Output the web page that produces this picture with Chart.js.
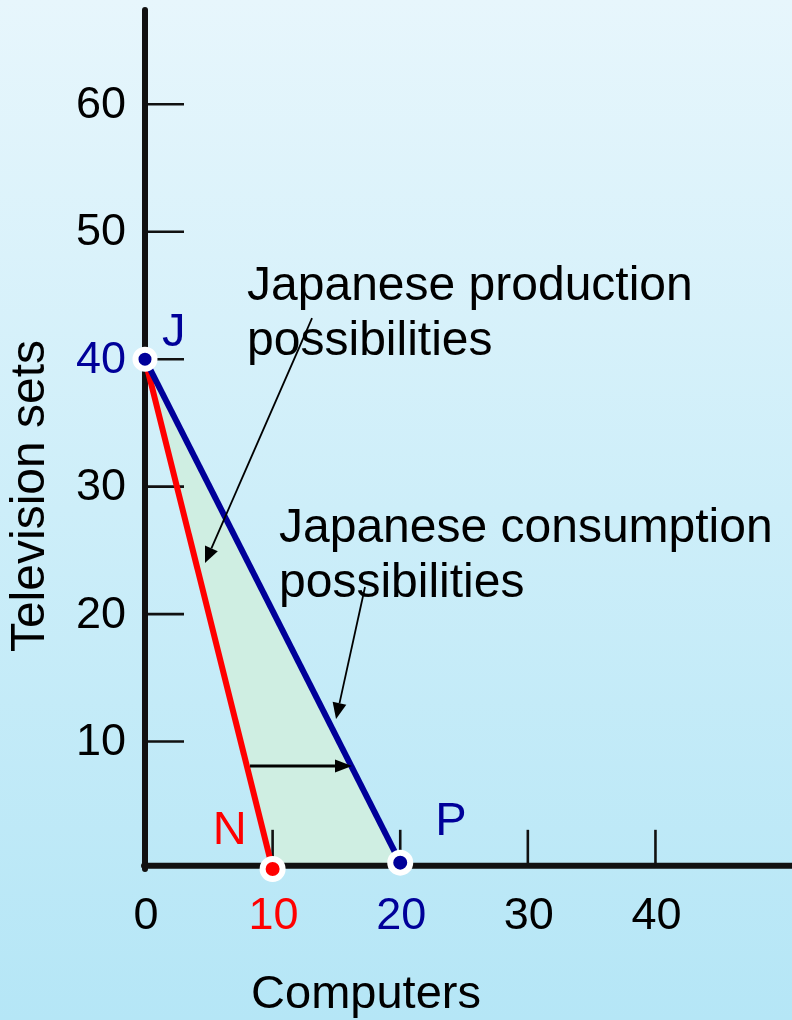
<!DOCTYPE html>
<html>
<head>
<meta charset="utf-8">
<script src="https://cdn.jsdelivr.net/npm/chart.js@4/dist/chart.umd.min.js"></script>
<style>
  html, body { margin: 0; padding: 0; }
  body {
    width: 792px; height: 1020px; overflow: hidden;
    background: linear-gradient(to bottom, #e7f6fc 0%, #cdeef9 50%, #b5e6f6 100%);
  }
  canvas { display: block; }
</style>
</head>
<body>
<canvas id="c" width="792" height="1020"></canvas>
<script>
// Japan: production possibilities vs consumption possibilities with trade
const computerTicks = [0, 10, 20, 30, 40];
const tvTicks = [10, 20, 30, 40, 50, 60];
const productionComputers = [0, 10];
const productionTV = [40, 0];
const consumptionComputers = [0, 20];
const consumptionTV = [40, 0.5];
const pointNames = ['J', 'N', 'P'];
const xTitle = 'Computers';
const yTitle = 'Television sets';
const productionNote = ['Japanese production', 'possibilities'];
const consumptionNote = ['Japanese consumption', 'possibilities'];

// ---- styling ----
const RED = '#ff0000';
const NAVY = '#000099';
const INK = '#111111';
const SHADE = '#cfeee2';
const FONT = '"Liberation Sans", Arial, Helvetica, sans-serif';
const xTickColor = { 10: RED, 20: NAVY };
const yTickColor = { 40: NAVY };

// annotation anchors in data units (x = computers, y = television sets)
const notes = [
  { lines: productionNote, at: { x: 8.0, y: 44.65 } },
  { lines: consumptionNote, at: { x: 10.5, y: 25.68 } }
];
const arrows = [
  { from: { x: 13.09, y: 43.23 }, to: { x: 4.70, y: 24.01 }, width: 1.8, head: 16, half: 7 },
  { from: { x: 17.24, y: 22.13 }, to: { x: 14.97, y: 11.77 }, width: 1.8, head: 16, half: 7 },
  { from: { x: 8.23, y: 8.08 }, to: { x: 16.22, y: 8.08 }, width: 3, head: 17, half: 6.5 }
];
// x-axis baseline sits a touch above zero
const xAxisAt = 0.25;

const J = { x: productionComputers[0], y: productionTV[0] };
const N = { x: productionComputers[1], y: productionTV[1] };
const P = { x: consumptionComputers[1], y: consumptionTV[1] };

function pts(xs, ys) { return xs.map((x, i) => ({ x, y: ys[i] })); }

function drawArrow(ctx, x1, y1, x2, y2, a) {
  const ang = Math.atan2(y2 - y1, x2 - x1);
  const bx = x2 - a.head * Math.cos(ang), by = y2 - a.head * Math.sin(ang);
  ctx.save();
  ctx.strokeStyle = '#000'; ctx.fillStyle = '#000';
  ctx.lineWidth = a.width; ctx.lineCap = 'butt';
  ctx.beginPath(); ctx.moveTo(x1, y1); ctx.lineTo(bx, by); ctx.stroke();
  const nx = -Math.sin(ang), ny = Math.cos(ang);
  ctx.beginPath();
  ctx.moveTo(x2, y2);
  ctx.lineTo(bx + nx * a.half, by + ny * a.half);
  ctx.lineTo(bx - nx * a.half, by - ny * a.half);
  ctx.closePath(); ctx.fill();
  ctx.restore();
}

const axesPlugin = {
  id: 'axesPlugin',
  beforeDatasetsDraw(chart) {
    const { ctx, scales: { x, y } } = chart;
    const x0 = x.getPixelForValue(0);
    const yBase = y.getPixelForValue(xAxisAt);
    ctx.save();
    ctx.strokeStyle = INK;
    ctx.lineCap = 'round';
    // vertical axis
    ctx.lineWidth = 6;
    ctx.beginPath();
    ctx.moveTo(x0, chart.chartArea.top);
    ctx.lineTo(x0, y.getPixelForValue(0));
    ctx.stroke();
    // horizontal axis
    ctx.beginPath();
    ctx.moveTo(x0 - 1, yBase);
    ctx.lineTo(chart.chartArea.right + 4, yBase);
    ctx.stroke();
    // inward tick marks
    ctx.lineCap = 'butt';
    ctx.lineWidth = 2.6;
    tvTicks.forEach(v => {
      const py = y.getPixelForValue(v);
      ctx.beginPath(); ctx.moveTo(x0, py); ctx.lineTo(x0 + 39, py); ctx.stroke();
    });
    computerTicks.forEach(v => {
      if (v === 0) return;
      const px = x.getPixelForValue(v);
      ctx.beginPath(); ctx.moveTo(px, yBase); ctx.lineTo(px, yBase - 36); ctx.stroke();
    });
    // tick labels
    ctx.font = '45px ' + FONT;
    ctx.textBaseline = 'middle';
    ctx.textAlign = 'right';
    tvTicks.forEach(v => {
      ctx.fillStyle = yTickColor[v] || '#000';
      ctx.fillText(String(v), x0 - 19, y.getPixelForValue(v) + 1);
    });
    ctx.textAlign = 'center';
    ctx.textBaseline = 'alphabetic';
    computerTicks.forEach(v => {
      ctx.fillStyle = xTickColor[v] || '#000';
      ctx.fillText(String(v), x.getPixelForValue(v) + 1, 929);
    });
    // axis titles
    ctx.fillStyle = '#000';
    ctx.font = '47px ' + FONT;
    ctx.fillText(xTitle, 366, 1008);
    ctx.save();
    ctx.translate(31, 496);
    ctx.rotate(-Math.PI / 2);
    ctx.textBaseline = 'middle';
    ctx.font = '48px ' + FONT;
    ctx.fillText(yTitle, 0, 0);
    ctx.restore();
    ctx.restore();
  },
  afterDatasetsDraw(chart) {
    const { ctx, scales: { x, y } } = chart;
    ctx.save();
    // point names
    ctx.font = '47px ' + FONT;
    ctx.textBaseline = 'alphabetic';
    ctx.textAlign = 'left';
    ctx.fillStyle = NAVY;
    ctx.fillText(pointNames[0], x.getPixelForValue(J.x) + 17, y.getPixelForValue(J.y) - 13);
    ctx.textAlign = 'right';
    ctx.fillStyle = RED;
    ctx.fillText(pointNames[1], x.getPixelForValue(N.x) - 26, y.getPixelForValue(N.y) - 25);
    ctx.textAlign = 'left';
    ctx.fillStyle = NAVY;
    ctx.fillText(pointNames[2], x.getPixelForValue(P.x) + 35, y.getPixelForValue(P.y) - 28);
    // annotations
    ctx.fillStyle = '#000';
    ctx.font = '48px ' + FONT;
    notes.forEach(n => {
      const px = x.getPixelForValue(n.at.x), py = y.getPixelForValue(n.at.y);
      n.lines.forEach((t, i) => ctx.fillText(t, px, py + i * 55));
    });
    ctx.restore();
    arrows.forEach(a => drawArrow(ctx,
      x.getPixelForValue(a.from.x), y.getPixelForValue(a.from.y),
      x.getPixelForValue(a.to.x), y.getPixelForValue(a.to.y), a));
  }
};

new Chart(document.getElementById('c'), {
  type: 'scatter',
  data: {
    datasets: [
      {
        label: 'gains from trade',
        data: [J, P, N],
        showLine: true,
        fill: 'shape',
        backgroundColor: SHADE,
        borderWidth: 0,
        borderColor: 'rgba(0,0,0,0)',
        pointRadius: 0,
        clip: false,
        order: 3
      },
      {
        label: 'production',
        data: pts(productionComputers, productionTV),
        showLine: true,
        borderColor: RED,
        borderWidth: 6,
        pointRadius: [0, 10],
        pointBackgroundColor: RED,
        pointBorderColor: '#ffffff',
        pointBorderWidth: 6,
        clip: false,
        order: 2
      },
      {
        label: 'consumption',
        data: pts(consumptionComputers, consumptionTV),
        showLine: true,
        borderColor: NAVY,
        borderWidth: 6,
        pointRadius: [9.5, 10],
        pointBackgroundColor: NAVY,
        pointBorderColor: '#ffffff',
        pointBorderWidth: 6,
        clip: false,
        order: 1
      }
    ]
  },
  options: {
    responsive: false,
    animation: false,
    events: [],
    layout: { autoPadding: false, padding: { left: 145, right: 0, top: 10, bottom: 151 } },
    scales: {
      x: { type: 'linear', min: 0, max: 50.7, display: false },
      y: { type: 'linear', min: 0, max: 67.4, display: false }
    },
    plugins: {
      legend: { display: false },
      tooltip: { enabled: false },
      filler: { drawTime: 'beforeDatasetsDraw' }
    }
  },
  plugins: [axesPlugin]
});
</script>
</body>
</html>
